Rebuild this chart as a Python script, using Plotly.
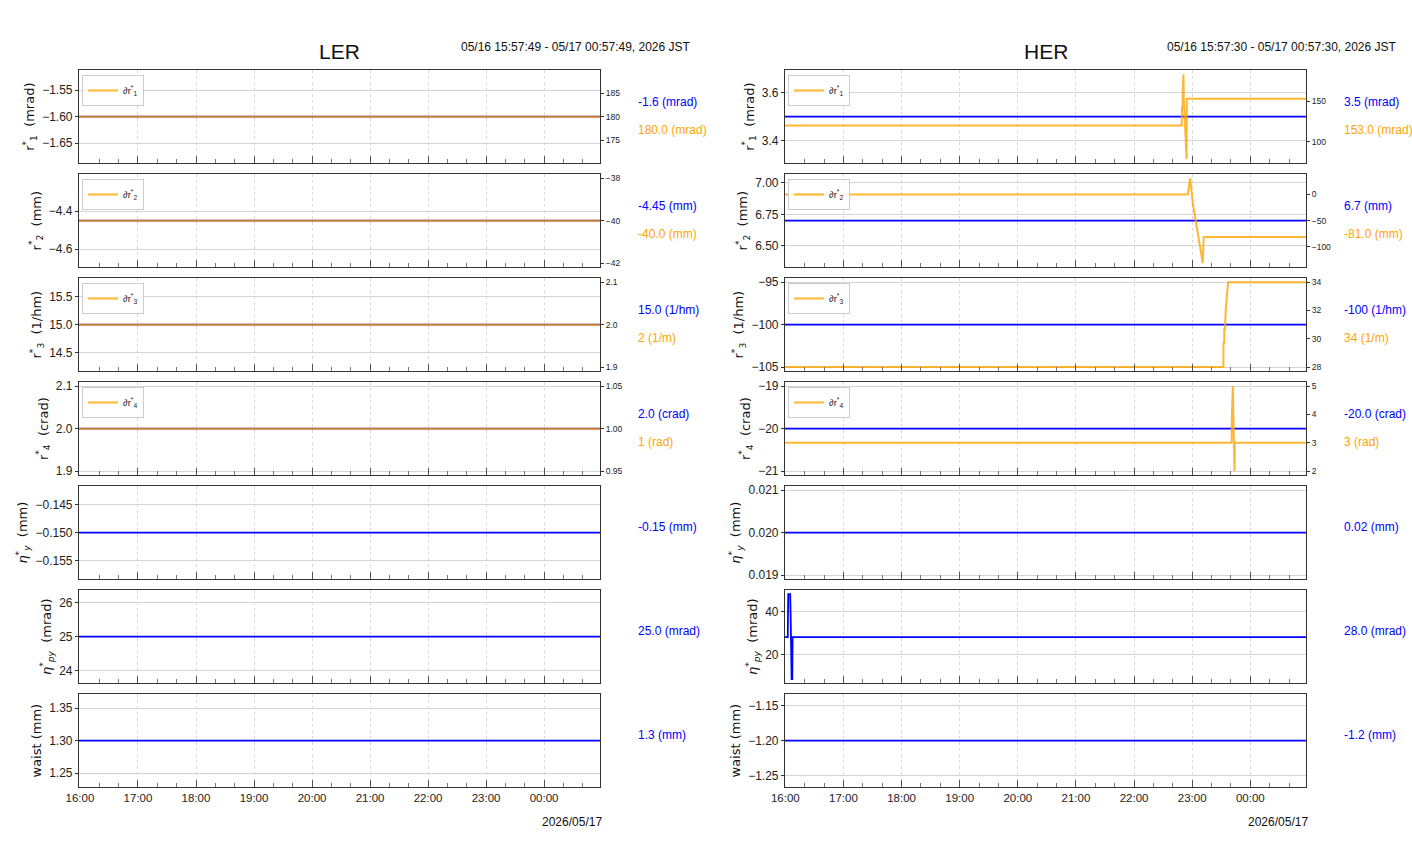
import plotly.graph_objects as go

W, H = 1412, 864

# ---------------- data ----------------
ler_t = ["2026-05-16 15:59:00", "2026-05-17 00:57:49"]
her_t = ["2026-05-16 15:59:40", "2026-05-17 00:57:30"]

# LER (flat values)
ler_r1 = [-1.6, -1.6]
ler_dr1 = [180.0, 180.0]
ler_r2 = [-4.45, -4.45]
ler_dr2 = [-40.0, -40.0]
ler_r3 = [15.0, 15.0]
ler_dr3 = [2.0, 2.0]
ler_r4 = [2.0, 2.0]
ler_dr4 = [1.0, 1.0]
ler_etay = [-0.15, -0.15]
ler_etapy = [25.0, 25.0]
ler_waist = [1.3, 1.3]

# HER
her_r1 = [3.5, 3.5]
her_dr1_t = ["2026-05-16 15:59:40", "2026-05-16 22:49:15", "2026-05-16 22:49:30", "2026-05-16 22:50:00",
             "2026-05-16 22:50:15", "2026-05-16 22:51:00", "2026-05-16 22:51:20", "2026-05-16 22:52:30",
             "2026-05-16 22:53:45", "2026-05-16 22:54:15", "2026-05-16 22:54:25", "2026-05-17 00:57:30"]
her_dr1 = [120, 120, 142, 142, 163, 183, 152, 120, 79, 79, 153, 153]

her_r2 = [6.7, 6.7]
her_dr2_t = ["2026-05-16 15:59:40", "2026-05-16 22:55:25", "2026-05-16 22:57:55", "2026-05-16 23:00:35",
             "2026-05-16 23:04:05", "2026-05-16 23:07:30", "2026-05-16 23:10:55", "2026-05-16 23:11:55",
             "2026-05-17 00:57:30"]
her_dr2 = [0, 0, 31, -16, -55, -93, -131, -81, -81]

her_r3 = [-100, -100]
her_dr3_t = ["2026-05-16 15:59:40", "2026-05-16 23:32:15", "2026-05-16 23:32:20", "2026-05-16 23:33:00",
             "2026-05-16 23:33:05", "2026-05-16 23:34:00", "2026-05-16 23:34:40", "2026-05-16 23:35:40",
             "2026-05-16 23:37:05", "2026-05-17 00:57:30"]
her_dr3 = [28, 28, 29.7, 29.7, 30.7, 30.7, 32.1, 33.0, 34, 34]

her_r4 = [-20.0, -20.0]
her_dr4_t = ["2026-05-16 15:59:40", "2026-05-16 23:40:45", "2026-05-16 23:41:00", "2026-05-16 23:41:15",
             "2026-05-16 23:42:00", "2026-05-16 23:42:30", "2026-05-16 23:43:00", "2026-05-16 23:43:30",
             "2026-05-16 23:43:45", "2026-05-16 23:44:00", "2026-05-17 00:57:30"]
her_dr4 = [3, 3, 4, 5, 5, 4, 3, 2, 2, 3, 3]

her_etay = [0.02, 0.02]
her_etapy_t = ["2026-05-16 15:59:40", "2026-05-16 16:02:30", "2026-05-16 16:03:00", "2026-05-16 16:05:00",
               "2026-05-16 16:05:30", "2026-05-16 16:06:00", "2026-05-16 16:06:30", "2026-05-16 16:07:10",
               "2026-05-16 16:07:30", "2026-05-17 00:57:30"]
her_etapy = [28, 28, 48, 48, 38, 20, 8.5, 8.5, 28, 28]
her_waist = [-1.2, -1.2]

# tick values
ler_left_ticks = [[-1.65, -1.60, -1.55], [-4.6, -4.4], [14.5, 15.0, 15.5], [1.9, 2.0, 2.1],
                  [-0.155, -0.150, -0.145], [24, 25, 26], [1.25, 1.30, 1.35]]
ler_left_fmt = [".2f", ".1f", ".1f", ".1f", ".3f", "d", ".2f"]
ler_right_ticks = [[175, 180, 185], [-42, -40, -38], [1.9, 2.0, 2.1], [0.95, 1.00, 1.05]]
ler_right_fmt = ["d", "d", ".1f", ".2f"]
her_left_ticks = [[3.4, 3.6], [6.50, 6.75, 7.00], [-105, -100, -95], [-21, -20, -19],
                  [0.019, 0.020, 0.021], [20, 40], [-1.25, -1.20, -1.15]]
her_left_fmt = [".1f", ".2f", "d", "d", ".3f", "d", ".2f"]
her_right_ticks = [[100, 150], [-100, -50, 0], [28, 30, 32, 34], [2, 3, 4, 5]]
her_right_fmt = ["d", "d", "d", "d"]

ylabels = ["r<sup>*</sup><sub>1</sub>  (mrad)", "r<sup>*</sup><sub>2</sub>  (mm)",
           "r<sup>*</sup><sub>3</sub>  (1/hm)", "r<sup>*</sup><sub>4</sub>  (crad)",
           "<i>η</i><sup>*</sup><sub><i>y</i></sub>  (mm)", "<i>η</i><sup>*</sup><sub><i>py</i></sub>  (mrad)",
           "waist (mm)"]
legend_names = ["∂r<sup>*</sup><sub>1</sub>", "∂r<sup>*</sup><sub>2</sub>",
                "∂r<sup>*</sup><sub>3</sub>", "∂r<sup>*</sup><sub>4</sub>"]

ler_blue_text = ["-1.6 (mrad)", "-4.45 (mm)", "15.0 (1/hm)", "2.0 (crad)", "-0.15 (mm)", "25.0 (mrad)", "1.3 (mm)"]
ler_orange_text = ["180.0 (mrad)", "-40.0 (mm)", "2 (1/m)", "1 (rad)"]
her_blue_text = ["3.5 (mrad)", "6.7 (mm)", "-100 (1/hm)", "-20.0 (crad)", "0.02 (mm)", "28.0 (mrad)", "-1.2 (mm)"]
her_orange_text = ["153.0 (mrad)", "-81.0 (mm)", "34 (1/m)", "3 (rad)"]

ler_title_range = "05/16 15:57:49 - 05/17 00:57:49, 2026 JST"
her_title_range = "05/16 15:57:30 - 05/17 00:57:30, 2026 JST"
date_label = "2026/05/17"

# ---------------- layout helpers ----------------
NARROW = "Liberation Sans, Arial, sans-serif"
LABELF = "DejaVu Sans, sans-serif"
BLUE = "#0000ff"
ORANGE = "rgba(255,165,0,0.8)"
ORANGE_T = "#ffa500"

col_px = [(79, 600), (785, 1306)]
row_top = [70 + 104 * i for i in range(7)]
row_h = 93.3


def yr(vals):
    lo, hi = min(vals), max(vals)
    if hi == lo:
        d = 0.055 * abs(lo) if lo != 0 else 0.055
        return [lo - d, hi + d]
    s = hi - lo
    return [lo - 0.05 * s, hi + 0.05 * s]


columns = [
    dict(xr=ler_t,
         blue=[(ler_t, ler_r1), (ler_t, ler_r2), (ler_t, ler_r3), (ler_t, ler_r4),
               (ler_t, ler_etay), (ler_t, ler_etapy), (ler_t, ler_waist)],
         orange=[(ler_t, ler_dr1), (ler_t, ler_dr2), (ler_t, ler_dr3), (ler_t, ler_dr4)],
         lt=ler_left_ticks, lf=ler_left_fmt, rt=ler_right_ticks, rf=ler_right_fmt,
         bt=ler_blue_text, ot=ler_orange_text, title="LER", rng=ler_title_range),
    dict(xr=her_t,
         blue=[(her_t, her_r1), (her_t, her_r2), (her_t, her_r3), (her_t, her_r4),
               (her_t, her_etay), (her_etapy_t, her_etapy), (her_t, her_waist)],
         orange=[(her_dr1_t, her_dr1), (her_dr2_t, her_dr2), (her_dr3_t, her_dr3), (her_dr4_t, her_dr4)],
         lt=her_left_ticks, lf=her_left_fmt, rt=her_right_ticks, rf=her_right_fmt,
         bt=her_blue_text, ot=her_orange_text, title="HER", rng=her_title_range),
]

fig = go.Figure()
layout = {}
annotations = []
sec_idx = 15
leg_idx = 1

for c, col in enumerate(columns):
    x0p, x1p = col_px[c]
    xdom = [x0p / W, x1p / W]
    for r in range(7):
        k = c * 7 + r + 1
        top = row_top[r]
        bot = top + row_h
        ydom = [1 - bot / H, 1 - top / H]
        xa = f"x{k}"
        ya = f"y{k}"
        layout[f"xaxis{k}"] = dict(
            domain=xdom, anchor=ya, type="date", range=col["xr"], automargin=False,
            tick0="2026-05-16 16:00:00", dtick=3600000, tickformat="%H:%M",
            ticks="inside", ticklen=7, tickcolor="#555", tickwidth=1,
            minor=dict(dtick=1200000, tick0="2026-05-16 16:00:00", ticks="inside", ticklen=4,
                       tickcolor="#777", showgrid=False),
            showticklabels=(r == 6), tickfont=dict(family=NARROW, size=11.5, color="#222"),
            showgrid=True, gridcolor="#d9d9d9", griddash="dot", gridwidth=1,
            showline=True, linecolor="#333", linewidth=1.2, mirror=True, zeroline=False,
        )
        bx, by = col["blue"][r]
        fig.add_trace(go.Scatter(x=bx, y=by, mode="lines", line=dict(color=BLUE, width=1.8),
                                 xaxis=xa, yaxis=ya, showlegend=False, hoverinfo="skip"))
        layout[f"yaxis{k}"] = dict(
            domain=ydom, anchor=xa, range=yr(list(by)), automargin=False,
            tickvals=col["lt"][r], tickformat=col["lf"][r],
            ticks="outside", ticklen=3, tickcolor="#333",
            tickfont=dict(family=NARROW, size=12, color="#222"),
            showgrid=True, gridcolor="#d4d4d4", gridwidth=1,
            showline=True, linecolor="#333", linewidth=1.2, mirror=True, zeroline=False,
            title=dict(text=ylabels[r], font=dict(family=LABELF, size=13, color="#111"), standoff=4),
        )
        cy = (top + bot) / 2
        if r < 4:
            ox, oy = col["orange"][r]
            sa = f"y{sec_idx}"
            lname = "legend" if leg_idx == 1 else f"legend{leg_idx}"
            fig.add_trace(go.Scatter(x=ox, y=oy, mode="lines", line=dict(color=ORANGE, width=2),
                                     xaxis=xa, yaxis=sa, name=legend_names[r], showlegend=True,
                                     legend=lname, hoverinfo="skip"))
            layout[f"yaxis{sec_idx}"] = dict(
                overlaying=ya, side="right", anchor=xa, range=yr(list(oy)), automargin=False,
                tickvals=col["rt"][r], tickformat=col["rf"][r],
                ticks="outside", ticklen=3, tickcolor="#333",
                tickfont=dict(family=NARROW, size=8.5, color="#222"),
                showgrid=False, showline=False, zeroline=False,
            )
            layout[lname] = dict(
                x=(x0p + 3) / W, y=1 - (top + 5) / H, xanchor="left", yanchor="top",
                bgcolor="rgba(255,255,255,0.85)", bordercolor="#cccccc", borderwidth=1,
                font=dict(family=NARROW, size=9.5, color="#222"), itemwidth=30,
                tracegroupgap=0,
            )
            sec_idx += 1
            leg_idx += 1
            annotations.append(dict(xref="paper", yref="paper", x=(x1p + 36) / W, y=1 - (cy - 15) / H,
                                    xanchor="left", yanchor="middle", showarrow=False, text=col["bt"][r],
                                    font=dict(family=NARROW, size=12, color=BLUE)))
            annotations.append(dict(xref="paper", yref="paper", x=(x1p + 36) / W, y=1 - (cy + 13) / H,
                                    xanchor="left", yanchor="middle", showarrow=False, text=col["ot"][r],
                                    font=dict(family=NARROW, size=12, color=ORANGE_T)))
        else:
            annotations.append(dict(xref="paper", yref="paper", x=(x1p + 36) / W, y=1 - (cy - 6) / H,
                                    xanchor="left", yanchor="middle", showarrow=False, text=col["bt"][r],
                                    font=dict(family=NARROW, size=12, color=BLUE)))
    # titles
    annotations.append(dict(xref="paper", yref="paper", x=(x0p + x1p) / 2 / W, y=1 - 51 / H,
                            xanchor="center", yanchor="middle", showarrow=False, text=col["title"],
                            font=dict(family=NARROW, size=21, color="#111")))
    annotations.append(dict(xref="paper", yref="paper", x=(x1p + 93) / W, y=1 - 47 / H,
                            xanchor="right", yanchor="middle", showarrow=False, text=col["rng"],
                            font=dict(family=NARROW, size=12, color="#111")))
    annotations.append(dict(xref="paper", yref="paper", x=(x1p + 4) / W, y=1 - 822 / H,
                            xanchor="right", yanchor="middle", showarrow=False, text=date_label,
                            font=dict(family=NARROW, size=12, color="#111")))

fig.update_layout(**layout)
fig.update_layout(
    width=W, height=H, margin=dict(l=0, r=0, t=0, b=0, autoexpand=False),
    paper_bgcolor="white", plot_bgcolor="white",
    annotations=annotations, hovermode=False,
)
fig.write_html("out.html", config={"displayModeBar": False})
